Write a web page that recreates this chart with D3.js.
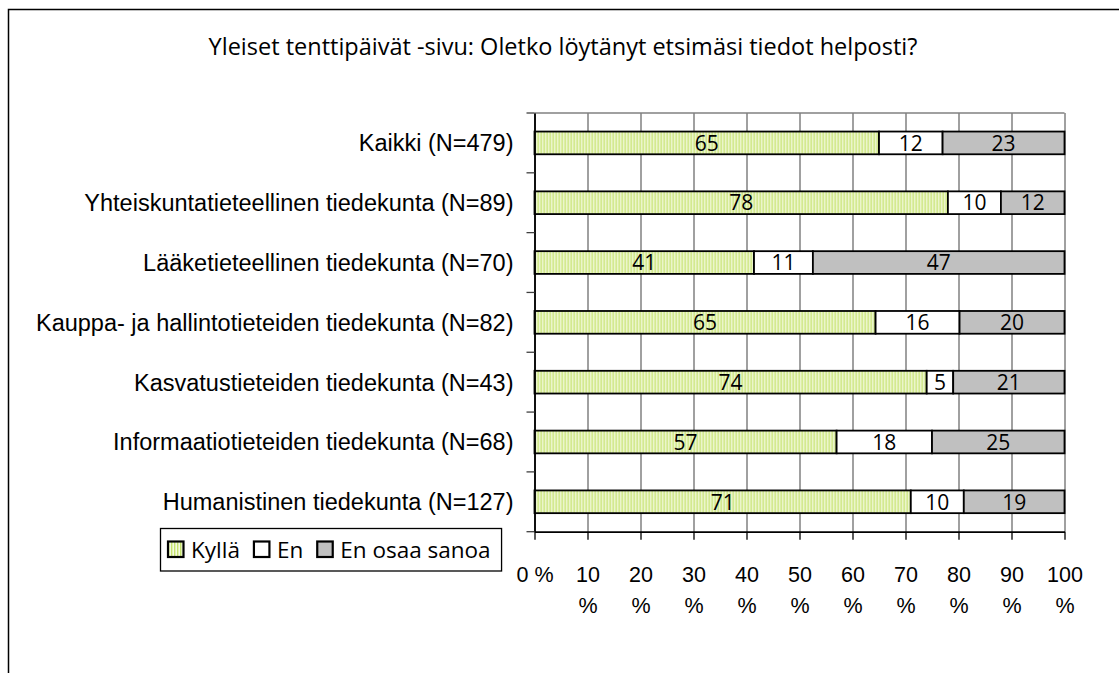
<!DOCTYPE html>
<html>
<head>
<meta charset="utf-8">
<script src="https://cdn.jsdelivr.net/npm/d3@7"></script>
<style>
  body { margin: 0; background: #fff; }
  svg { display: block; font-family: "Open Sans", sans-serif; }
</style>
</head>
<body>
<svg id="chart" width="1119" height="673"></svg>
<script>
const categories = [
  'Kaikki (N=479)',
  'Yhteiskuntatieteellinen tiedekunta (N=89)',
  'Lääketieteellinen tiedekunta (N=70)',
  'Kauppa- ja hallintotieteiden tiedekunta (N=82)',
  'Kasvatustieteiden tiedekunta (N=43)',
  'Informaatiotieteiden tiedekunta (N=68)',
  'Humanistinen tiedekunta (N=127)'
];
const kylla = [65, 78, 41, 65, 74, 57, 71];
const en = [12, 10, 11, 16, 5, 18, 10];
const enOsaa = [23, 12, 47, 20, 21, 25, 19];
const seriesNames = ['Kyllä', 'En', 'En osaa sanoa'];
const xTickValues = [0, 10, 20, 30, 40, 50, 60, 70, 80, 90, 100];
const xTickLabels = ['0 %', '10 %', '20 %', '30 %', '40 %', '50 %', '60 %', '70 %', '80 %', '90 %', '100 %'];
const title = 'Yleiset tenttipäivät -sivu: Oletko löytänyt etsimäsi tiedot helposti?';

const svg = d3.select('#chart');
const margin = {top: 113, left: 534.5, right: 54.5, bottom: 141.3};
const width = 1119 - margin.left - margin.right;
const height = 673 - margin.top - margin.bottom;
const labelSize = 23.5, valueSize = 21, tickSize = 21.5, legendSize = 22.5;

// patterned fill for Kyllä
const defs = svg.append('defs');
const pat = defs.append('pattern')
  .attr('id', 'stripes')
  .attr('patternUnits', 'userSpaceOnUse')
  .attr('width', 3).attr('height', 10);
pat.append('rect').attr('width', 3).attr('height', 10).attr('fill', '#f4fae2');
pat.append('rect').attr('width', 1.4).attr('height', 10).attr('fill', '#c5e26c');

const colors = ['url(#stripes)', '#ffffff', '#c0c0c0'];

// outer frame (runs off the canvas right and bottom)
svg.append('rect')
  .attr('x', 8.5).attr('y', 9.5)
  .attr('width', 1300).attr('height', 900)
  .attr('fill', 'none').attr('stroke', '#000').attr('stroke-width', 1.5);

svg.append('text')
  .attr('x', 563).attr('y', 55)
  .attr('text-anchor', 'middle')
  .attr('font-size', labelSize)
  .text(title);

const rows = categories.map((c, i) => ({cat: c, [seriesNames[0]]: kylla[i], [seriesNames[1]]: en[i], [seriesNames[2]]: enOsaa[i]}));
const stack = d3.stack().keys(seriesNames).offset(d3.stackOffsetExpand);
const series = stack(rows);

const x = d3.scaleLinear().domain([0, 1]).range([0, width]);
const y = d3.scaleBand().domain(categories).range([0, height]).paddingInner(0.62).paddingOuter(0.31);

const g = svg.append('g').attr('transform', `translate(${margin.left},${margin.top})`);

// grid
g.append('g')
  .call(d3.axisBottom(x).tickValues(xTickValues.map(v => v / 100)).tickSize(height).tickFormat(''))
  .call(a => a.select('.domain').remove())
  .selectAll('line').attr('stroke', '#808080').attr('stroke-width', 1.5);
g.append('line')
  .attr('x1', 0).attr('x2', width).attr('y1', 0).attr('y2', 0)
  .attr('stroke', '#808080').attr('stroke-width', 1.5);

// bars
const layer = g.selectAll('.layer').data(series).enter().append('g')
  .attr('fill', (d, i) => colors[i]);
layer.selectAll('rect').data(d => d).enter().append('rect')
  .attr('x', d => x(d[0]))
  .attr('y', d => y(d.data.cat))
  .attr('width', d => x(d[1]) - x(d[0]))
  .attr('height', y.bandwidth())
  .attr('stroke', '#000').attr('stroke-width', 1.8);

// value labels
series.forEach(s => {
  g.append('g').selectAll('text').data(s).enter().append('text')
    .attr('x', d => (x(d[0]) + x(d[1])) / 2)
    .attr('y', d => y(d.data.cat) + y.bandwidth() / 2 + valueSize * 0.37)
    .attr('text-anchor', 'middle')
    .attr('font-size', valueSize)
    .text(d => d.data[s.key]);
});

// category axis
const yAxis = g.append('g')
  .call(d3.axisLeft(y).tickSize(0).tickPadding(21));
yAxis.select('.domain').attr('stroke', '#000').attr('stroke-width', 1.8);
yAxis.selectAll('text')
  .attr('font-size', labelSize).attr('font-family', null).attr('fill', '#000')
  .attr('dy', '0.36em');
g.append('g').selectAll('line').data(d3.range(categories.length + 1)).enter().append('line')
  .attr('x1', -8).attr('x2', 0)
  .attr('y1', i => i * y.step()).attr('y2', i => i * y.step())
  .attr('stroke', '#404040').attr('stroke-width', 1.3);

// value axis
const xAxis = g.append('g')
  .attr('transform', `translate(0,${height})`)
  .call(d3.axisBottom(x).tickValues(xTickValues.map(v => v / 100)).tickSize(8).tickSizeOuter(0).tickFormat(''));
xAxis.select('.domain').attr('stroke', '#000').attr('stroke-width', 1.8);
xAxis.selectAll('line').attr('stroke', '#000').attr('stroke-width', 1.3);
xAxis.selectAll('.tick').each(function(d, i) {
  const parts = i === 0 ? [xTickLabels[i]] : xTickLabels[i].split(' ');
  const t = d3.select(this).append('text')
    .attr('text-anchor', 'middle')
    .attr('font-size', tickSize)
    .attr('fill', '#000');
  parts.forEach((p, k) => {
    t.append('tspan').attr('x', 0).attr('y', 50.5 + k * 31).text(p);
  });
});

// legend
const lg = svg.append('g');
const lgBox = lg.append('rect')
  .attr('x', 160.5).attr('y', 528.5).attr('height', 42.5)
  .attr('fill', '#fff').attr('stroke', '#000').attr('stroke-width', 1.3);
let lx = 168;
seriesNames.forEach((name, i) => {
  lg.append('rect')
    .attr('x', lx).attr('y', 541.5).attr('width', 15.5).attr('height', 15.5)
    .attr('fill', colors[i]).attr('stroke', '#000').attr('stroke-width', 2.2);
  const t = lg.append('text')
    .attr('x', lx + 23).attr('y', 558)
    .attr('font-size', legendSize)
    .text(name);
  lx += 23 + t.node().getComputedTextLength() + 14;
});
lgBox.attr('width', lx - 14 + 11 - 160.5);
</script>
</body>
</html>
